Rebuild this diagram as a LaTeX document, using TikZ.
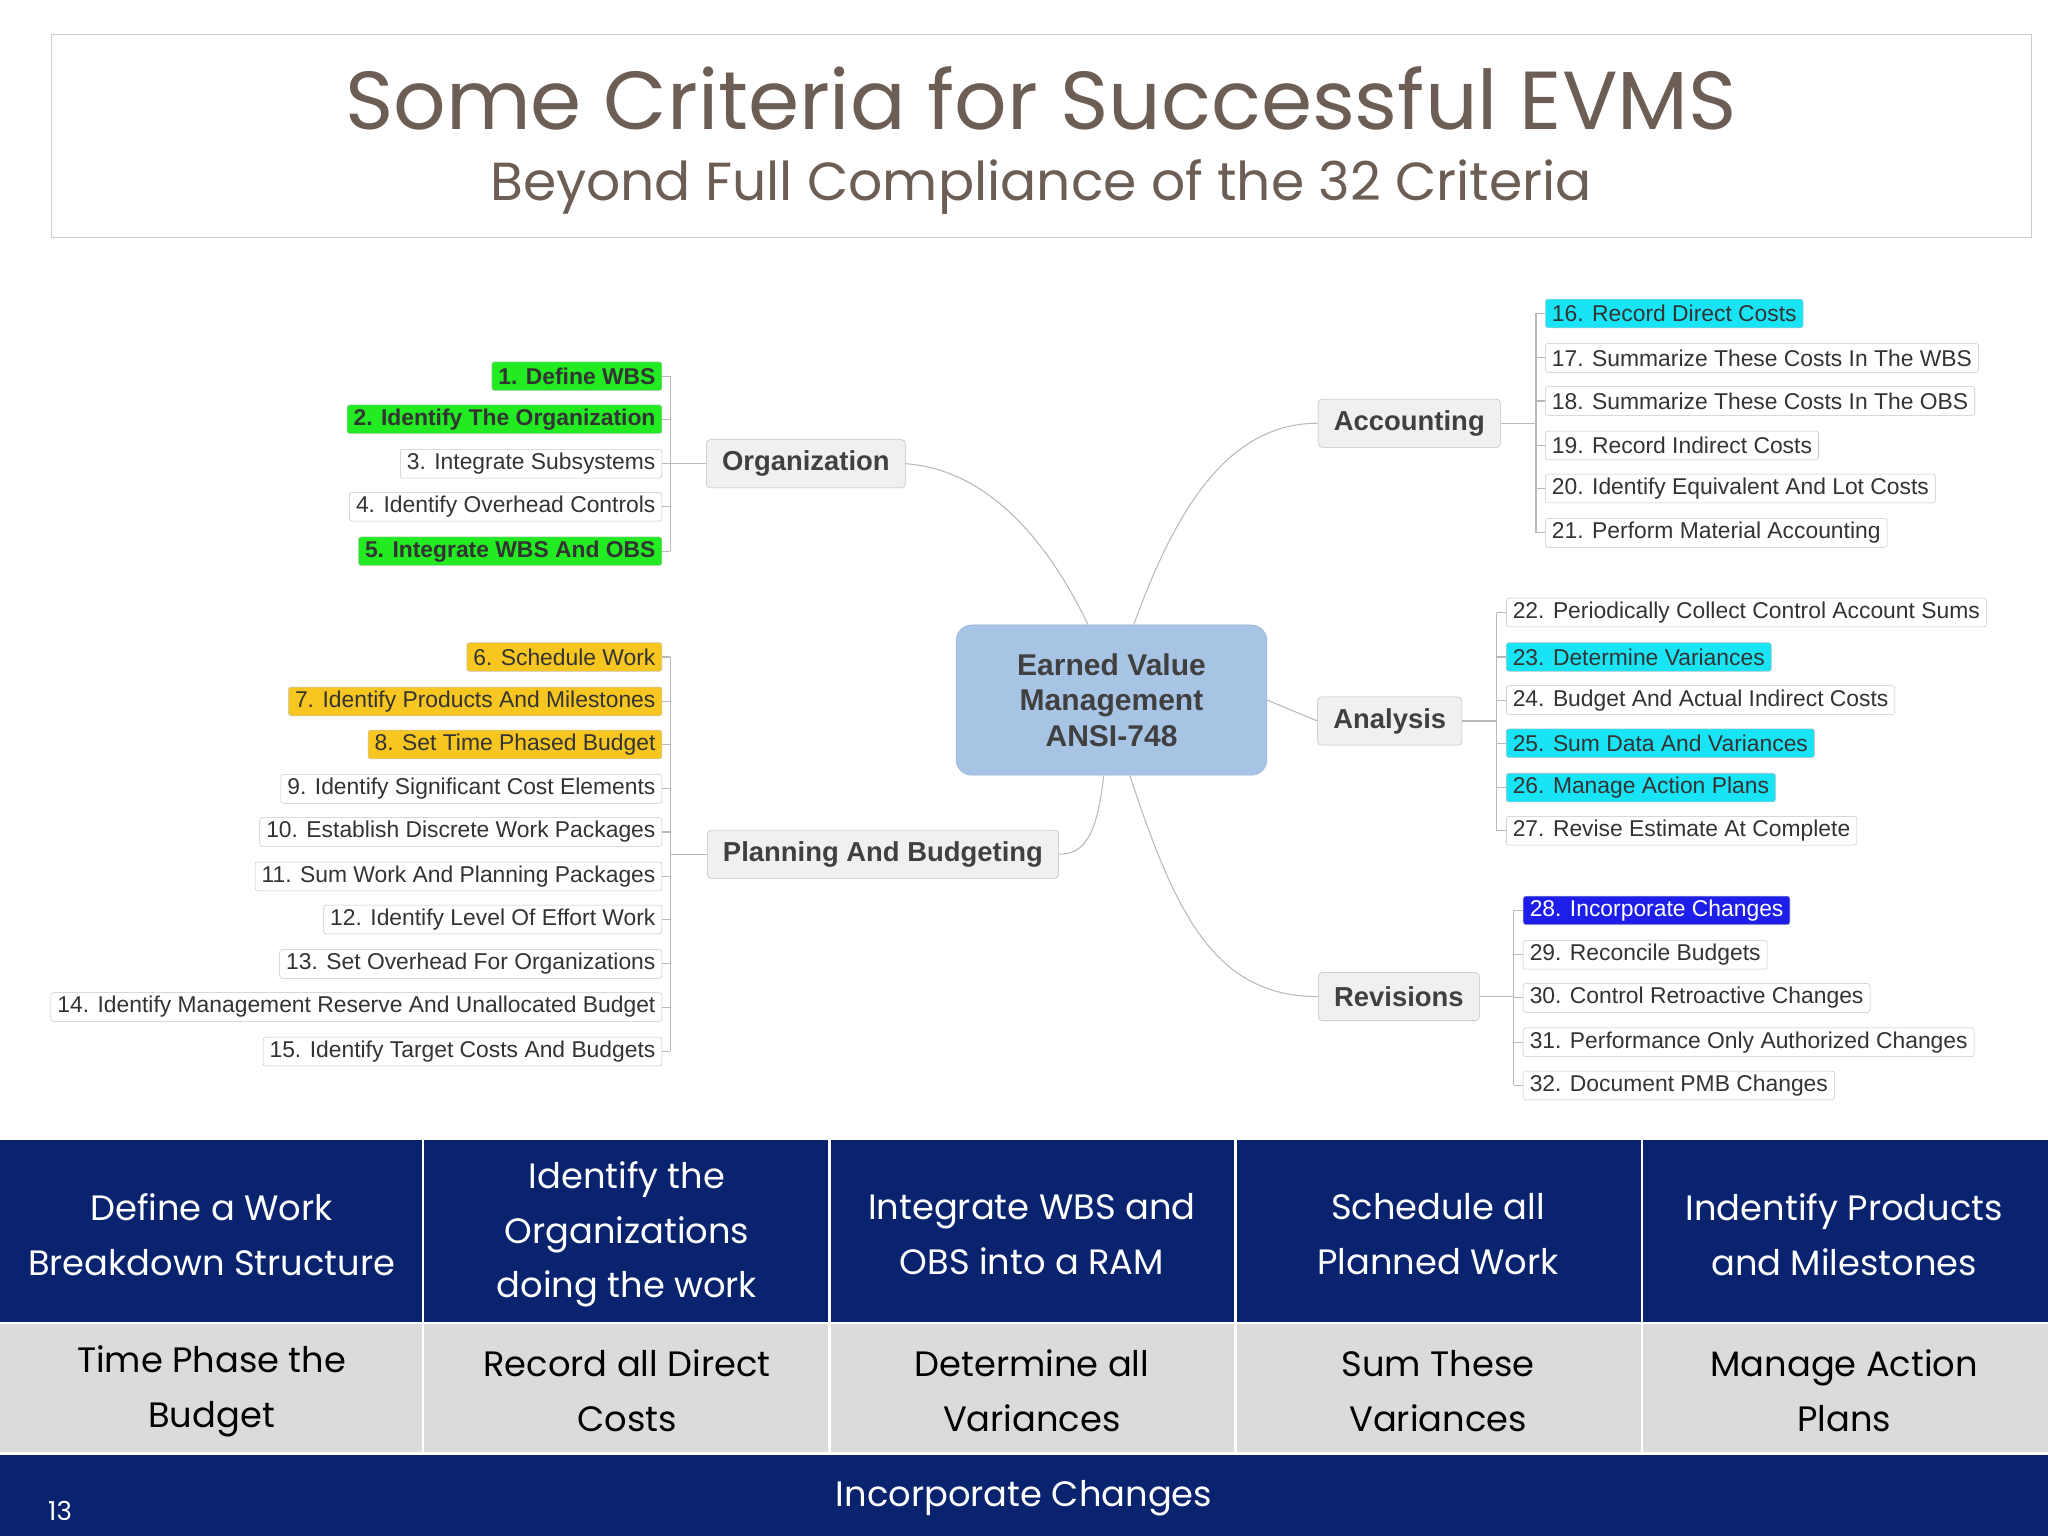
\documentclass[tikz,border=0pt]{standalone}
\usepackage{fontspec}
\setmainfont{Liberation Sans}
\newfontfamily\tf{Poppins}
\begin{document}
\begin{tikzpicture}[x=1pt,y=-1pt,
 leaf/.style={draw=gray!45,fill=white,rounded corners=2,inner xsep=5,inner ysep=0,minimum height=22,font=\fontsize{17.5}{19}\selectfont,text=black!80},
 lg/.style={leaf,fill={rgb,255:red,34;green,235;blue,34},font=\fontsize{17.5}{19}\selectfont\bfseries},
 ly/.style={leaf,fill={rgb,255:red,247;green,198;blue,32}},
 lc/.style={leaf,fill={rgb,255:red,25;green,228;blue,245}},
 lb/.style={leaf,fill={rgb,255:red,30;green,30;blue,235},text=white},
 br/.style={draw=gray!50,fill=gray!12,rounded corners=3,minimum height=37,inner xsep=12,font=\fontsize{21}{24}\selectfont\bfseries,text=black!75},
 con/.style={gray!55,line width=0.8},
 cell/.style={minimum width=311,align=center,font=\tf\fontsize{27}{42}\selectfont}]
\useasboundingbox (0,0) rectangle (1568,1176);
\fill[white] (0,0) rectangle (1568,1176);
\draw[gray!40] (39,26) rectangle (1555,182);
\node[font=\tf\fontsize{63}{66}\selectfont,text={rgb,255:red,108;green,94;blue,84}] (title) at (797,75) {Some Criteria for Successful EVMS};
\node[font=\tf\fontsize{41}{44}\selectfont,text={rgb,255:red,108;green,94;blue,84}] (sub) at (797,143) {Beyond Full Compliance of the 32 Criteria};
% center
\node[fill={rgb,255:red,168;green,196;blue,228},draw={rgb,255:red,150;green,180;blue,215},rounded corners=12,minimum width=238,minimum height=115,align=center,font=\fontsize{23}{27}\selectfont\bfseries,text=black!75] (c) at (851,536) {Earned Value\\Management\\ANSI-748};
\node[br] (org) at (617,355) {Organization};
\node[br] (pb) at (676,654) {Planning And Budgeting};
\node[br] (acc) at (1079,324) {Accounting};
\node[br] (ana) at (1064,552) {Analysis};
\node[br] (rev) at (1071,763) {Revisions};
\draw[con] (c.north)++(-18,0) coordinate (c1) .. controls (805,420) and (760,360) .. (org.east);
\draw[con] (c.north)++(17,0) coordinate (c2) .. controls (900,390) and (940,324) .. (acc.west);
\draw[con] (c.east) -- (ana.west);
\draw[con] (c.south)++(14,0) coordinate (c3) .. controls (900,700) and (930,763) .. (rev.west);
\draw[con] (c.south)++(-6,0) coordinate (c4) .. controls (840,640) and (830,654) .. (pb.east);
% left leaves
\foreach \n/\s/\y/\t in {l1/lg/288/1. Define WBS,l2/lg/321/2. Identify The Organization,l3/leaf/355/3. Integrate Subsystems,l4/leaf/388/4. Identify Overhead Controls,l5/lg/422/5. Integrate WBS And OBS,
 l6/ly/503/6. Schedule Work,l7/ly/537/7. Identify Products And Milestones,l8/ly/570/8. Set Time Phased Budget,l9/leaf/604/9. Identify Significant Cost Elements,l10/leaf/637/10. Establish Discrete Work Packages,l11/leaf/671/11. Sum Work And Planning Packages,l12/leaf/704/12. Identify Level Of Effort Work,l13/leaf/738/13. Set Overhead For Organizations,l14/leaf/771/14. Identify Management Reserve And Unallocated Budget,l15/leaf/805/15. Identify Target Costs And Budgets}
 {\node[\s,anchor=east] (\n) at (507,\y) {\t};}
\foreach \n/\s/\y/\t in {r16/lc/240/16. Record Direct Costs,r17/leaf/274/17. Summarize These Costs In The WBS,r18/leaf/307/18. Summarize These Costs In The OBS,r19/leaf/341/19. Record Indirect Costs,r20/leaf/374/20. Identify Equivalent And Lot Costs,r21/leaf/408/21. Perform Material Accounting}
 {\node[\s,anchor=west] (\n) at (1183,\y) {\t};}
\foreach \n/\s/\y/\t in {r22/leaf/469/22. Periodically Collect Control Account Sums,r23/lc/503/23. Determine Variances,r24/leaf/536/24. Budget And Actual Indirect Costs,r25/lc/569/25. Sum Data And Variances,r26/lc/603/26. Manage Action Plans,r27/leaf/636/27. Revise Estimate At Complete}
 {\node[\s,anchor=west] (\n) at (1153,\y) {\t};}
\foreach \n/\s/\y/\t in {r28/lb/697/28. Incorporate Changes,r29/leaf/731/29. Reconcile Budgets,r30/leaf/764/30. Control Retroactive Changes,r31/leaf/798/31. Performance Only Authorized Changes,r32/leaf/831/32. Document PMB Changes}
 {\node[\s,anchor=west] (\n) at (1166,\y) {\t};}
% brackets
\coordinate (bo) at (513,355); \coordinate (bp) at (513,654);
\coordinate (ba) at (1176,324); \coordinate (bn) at (1146,552); \coordinate (bv) at (1159,763);
\draw[con] (org.west) -- (bo); \draw[con] (l1.east -| bo) -- (l5.east -| bo);
\foreach \l in {l1,l2,l3,l4,l5} \draw[con] (\l.east) -- (\l.east -| bo);
\draw[con] (pb.west) -- (bp); \draw[con] (l6.east -| bp) -- (l15.east -| bp);
\foreach \l in {l6,l7,l8,l9,l10,l11,l12,l13,l14,l15} \draw[con] (\l.east) -- (\l.east -| bp);
\draw[con] (acc.east) -- (ba); \draw[con] (r16.west -| ba) -- (r21.west -| ba);
\foreach \l in {r16,r17,r18,r19,r20,r21} \draw[con] (\l.west) -- (\l.west -| ba);
\draw[con] (ana.east) -- (bn); \draw[con] (r22.west -| bn) -- (r27.west -| bn);
\foreach \l in {r22,r23,r24,r25,r26,r27} \draw[con] (\l.west) -- (\l.west -| bn);
\draw[con] (rev.east) -- (bv); \draw[con] (r28.west -| bv) -- (r32.west -| bv);
\foreach \l in {r28,r29,r30,r31,r32} \draw[con] (\l.west) -- (\l.west -| bv);
% table
\definecolor{navy}{RGB}{10,35,110}
\fill[navy] (0,873) rectangle (1568,1013);
\fill[gray!28] (0,1013) rectangle (1568,1113);
\fill[navy] (0,1113) rectangle (1568,1176);
\foreach \x in {324,635,946,1257} \draw[white,line width=2] (\x,873) -- (\x,1113);
\draw[white,line width=2] (0,1013) -- (1568,1013) (0,1113) -- (1568,1113);
\node[cell,text=white] (t1) at (162,945) {Define a Work\\Breakdown Structure};
\node[cell,text=white] (t2) at (480,945) {Identify the\\Organizations\\doing the work};
\node[cell,text=white] (t3) at (790,945) {Integrate WBS and\\OBS into a RAM};
\node[cell,text=white] (t4) at (1101,945) {Schedule all\\Planned Work};
\node[cell,text=white] (t5) at (1412,945) {Indentify Products\\and Milestones};
\node[cell,text=black] (u1) at (162,1065) {Time Phase the\\Budget};
\node[cell,text=black] (u2) at (480,1065) {Record all Direct\\Costs};
\node[cell,text=black] (u3) at (790,1065) {Determine all\\Variances};
\node[cell,text=black] (u4) at (1101,1065) {Sum These\\Variances};
\node[cell,text=black] (u5) at (1412,1065) {Manage Action\\Plans};
\node[cell,text=white,minimum width=600] (v) at (784,1147) {Incorporate Changes};
\node[text=white,font=\tf\fontsize{20}{22}\selectfont] (pg) at (46,1157) {13};
\end{tikzpicture}
\end{document}
